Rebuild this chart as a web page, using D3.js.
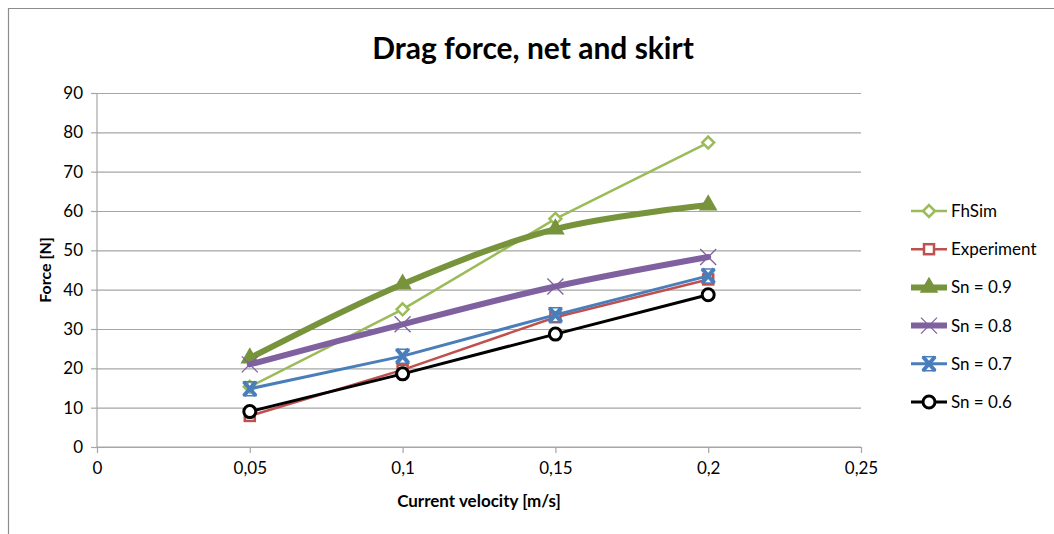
<!DOCTYPE html>
<html>
<head>
<meta charset="utf-8">
<script src="https://cdn.jsdelivr.net/npm/d3@7"></script>
<style>
  body { margin: 0; background: #fff; }
  text { font-family: Lato, "Open Sans", sans-serif; }
</style>
</head>
<body>
<div class="chart"></div>
<script>
var svgWidth = 1054;
var svgHeight = 534;

var margin = { top: 93, right: 193, bottom: 87, left: 97 };
var width = svgWidth - margin.left - margin.right;
var height = svgHeight - margin.top - margin.bottom;

// data
var velocities = [0.05, 0.1, 0.15, 0.2];
var fhSim = [15.3, 35, 58, 77.4];
var experiment = [7.9, 19.6, 33, 42.6];
var sn09 = [22.6, 41.4, 55.4, 61.5];
var sn08 = [21, 31.2, 40.8, 48.3];
var sn07 = [14.8, 23.1, 33.6, 43.5];
var sn06 = [9, 18.6, 28.7, 38.7];
var xTicks = [0, 0.05, 0.1, 0.15, 0.2, 0.25];
var yTicks = [0, 10, 20, 30, 40, 50, 60, 70, 80, 90];

var series = [
  { name: "FhSim", values: fhSim, color: "#9BBB59", width: 2.5, marker: "diamond", smooth: false },
  { name: "Experiment", values: experiment, color: "#C0504D", width: 2.5, marker: "square", smooth: false },
  { name: "Sn = 0.9", values: sn09, color: "#77933C", width: 6, marker: "triangle", smooth: true },
  { name: "Sn = 0.8", values: sn08, color: "#7F61A0", width: 6, marker: "cross", smooth: true },
  { name: "Sn = 0.7", values: sn07, color: "#4A7EBB", width: 3, marker: "boldx", smooth: false },
  { name: "Sn = 0.6", values: sn06, color: "#000000", width: 3, marker: "circle", smooth: false }
];

var svg = d3.select(".chart")
    .append("svg")
    .attr("width", svgWidth)
    .attr("height", svgHeight);

// outer frame (only top and left edges are in view)
svg.append("path")
    .attr("d", "M8.5,534V8.5H1054")
    .attr("fill", "none")
    .attr("stroke", "#8c8c8c")
    .attr("stroke-width", 1.2);

var chartGroup = svg.append("g")
    .attr("transform", `translate(${margin.left}, ${margin.top})`);

var xScale = d3.scaleLinear().domain([0, 0.25]).range([0, width]);
var yScale = d3.scaleLinear().domain([0, 90]).range([height, 0]);

var comma = d => String(d).replace(".", ",");

// gridlines
chartGroup.append("g")
    .call(d3.axisLeft(yScale).tickValues(yTicks).tickSize(-width).tickFormat(""))
    .call(g => g.select(".domain").remove())
    .selectAll("line")
    .attr("stroke", "#a6a6a6")
    .attr("stroke-width", 1.2);

// axes
var bottomAxis = d3.axisBottom(xScale).tickValues(xTicks).tickSize(6).tickPadding(9).tickFormat(comma);
var leftAxis = d3.axisLeft(yScale).tickValues(yTicks).tickSize(6).tickPadding(8);

var xAxisG = chartGroup.append("g")
    .attr("transform", `translate(0, ${height})`)
    .call(bottomAxis);

var yAxisG = chartGroup.append("g")
    .call(leftAxis);

[xAxisG, yAxisG].forEach(function(g) {
  g.select(".domain").attr("stroke", "#a6a6a6").attr("stroke-width", 1.2);
  g.selectAll(".tick line").attr("stroke", "#a6a6a6").attr("stroke-width", 1.2);
  g.selectAll(".tick text")
    .attr("fill", "#000")
    .style("font-size", "17px")
    .style("font-family", "Lato, sans-serif");
});
yAxisG.select(".domain").attr("d", `M0,${height}V0`);
xAxisG.select(".domain").attr("d", `M0,0H${width}`);

// lines
var lineStraight = d3.line()
    .x((d, i) => xScale(velocities[i]))
    .y(d => yScale(d));
var lineSmooth = d3.line()
    .x((d, i) => xScale(velocities[i]))
    .y(d => yScale(d))
    .curve(d3.curveCatmullRom.alpha(0.5));

function drawMarker(g, type, color, x, y) {
  if (type === "diamond") {
    g.append("path")
      .attr("d", d3.symbol().type(d3.symbolDiamond2).size(90)())
      .attr("transform", `translate(${x},${y})`)
      .attr("fill", "#fff").attr("stroke", color).attr("stroke-width", 2.5);
  } else if (type === "square") {
    g.append("rect")
      .attr("x", x - 5).attr("y", y - 5).attr("width", 10).attr("height", 10)
      .attr("fill", "#fff").attr("stroke", color).attr("stroke-width", 2.5);
  } else if (type === "triangle") {
    g.append("path")
      .attr("d", d3.symbol().type(d3.symbolTriangle).size(150)())
      .attr("transform", `translate(${x},${y})`)
      .attr("fill", color);
  } else if (type === "cross") {
    g.append("path")
      .attr("d", `M${x - 8},${y - 8}L${x + 8},${y + 8}M${x - 8},${y + 8}L${x + 8},${y - 8}`)
      .attr("stroke", color).attr("stroke-width", 1.3).attr("fill", "none");
  } else if (type === "boldx") {
    g.append("path")
      .attr("d", `M${x - 6},${y - 7}L${x + 6},${y + 7}M${x - 6},${y + 7}L${x + 6},${y - 7}`)
      .attr("stroke", color).attr("stroke-width", 4).attr("fill", "none");
    g.append("path")
      .attr("d", `M${x - 7},${y - 7}H${x + 7}M${x - 7},${y + 7}H${x + 7}`)
      .attr("stroke", color).attr("stroke-width", 1.5).attr("fill", "none");
  } else if (type === "circle") {
    g.append("circle")
      .attr("cx", x).attr("cy", y).attr("r", 6)
      .attr("fill", "#fff").attr("stroke", color).attr("stroke-width", 3);
  }
}

// draw order: experiment under, others in a sensible stacking
var drawOrder = ["Experiment", "FhSim", "Sn = 0.9", "Sn = 0.8", "Sn = 0.7", "Sn = 0.6"];
drawOrder.forEach(function(name) {
  var s = series.find(d => d.name === name);
  var g = chartGroup.append("g");
  g.append("path")
    .datum(s.values)
    .attr("d", s.smooth ? lineSmooth : lineStraight)
    .attr("fill", "none")
    .attr("stroke", s.color)
    .attr("stroke-width", s.width)
    .attr("stroke-linejoin", "round")
    .attr("stroke-linecap", "round");
  s.values.forEach(function(v, i) {
    drawMarker(g, s.marker, s.color, xScale(velocities[i]), yScale(v));
  });
});

// legend
var legend = svg.append("g");
series.forEach(function(s, i) {
  var y = 211 + i * 38.2;
  var lg = legend.append("g");
  lg.append("line")
    .attr("x1", 911).attr("x2", 947)
    .attr("y1", y).attr("y2", y)
    .attr("stroke", s.color)
    .attr("stroke-width", s.width);
  drawMarker(lg, s.marker, s.color, 929, y);
  lg.append("text")
    .attr("x", 951).attr("y", y)
    .attr("dy", "0.35em")
    .style("font-size", "17px")
    .text(s.name);
});

// title
svg.append("text")
    .attr("x", 533).attr("y", 59)
    .attr("text-anchor", "middle")
    .style("font-size", "30px")
    .style("font-weight", "bold")
    .text("Drag force, net and skirt");

// axis labels
svg.append("text")
    .attr("transform", `translate(51, ${margin.top + height / 2}) rotate(-90)`)
    .attr("text-anchor", "middle")
    .style("font-size", "16px")
    .style("font-weight", "bold")
    .text("Force [N]");

svg.append("text")
    .attr("x", margin.left + width / 2).attr("y", 507)
    .attr("text-anchor", "middle")
    .style("font-size", "17px")
    .style("font-weight", "bold")
    .text("Current velocity [m/s]");
</script>
</body>
</html>
